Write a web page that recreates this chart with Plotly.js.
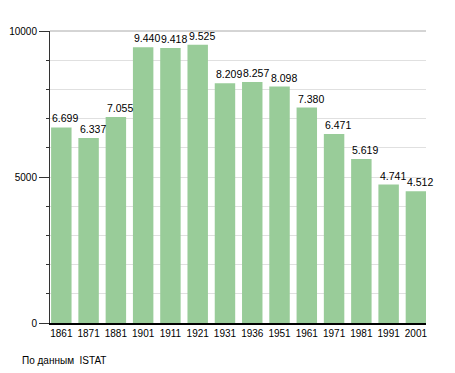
<!DOCTYPE html>
<html>
<head>
<meta charset="utf-8">
<script src="https://cdn.plot.ly/plotly-3.0.1.min.js"></script>
<style>html,body{margin:0;padding:0;background:#fff;}#chart{width:455px;height:373px;}</style>
</head>
<body>
<div id="chart"></div>
<script>
var years = ['1861','1871','1881','1901','1911','1921','1931','1936','1951','1961','1971','1981','1991','2001'];
var population = [6699, 6337, 7055, 9440, 9418, 9525, 8209, 8257, 8098, 7380, 6471, 5619, 4741, 4512];
var sourceNote = 'По данным  ISTAT';

function fmt(v){ return String(v).replace(/\B(?=(\d{3})+(?!\d))/g, '.'); }

var font = 'Liberation Sans, Arial, sans-serif';

var annotations = years.map(function(y, i){
  return {x: i, y: population[i], text: fmt(population[i]), showarrow: false,
    xanchor: 'left', yanchor: 'bottom', xshift: -11, yshift: 1,
    font: {family: font, size: 10.5, color: '#000'}};
});
annotations.push({xref: 'paper', yref: 'paper', x: -0.08, y: -0.13, xanchor: 'left', yanchor: 'middle',
  text: sourceNote, showarrow: false, font: {family: font, size: 10, color: '#000'}});

var trace = {type: 'bar', x: years, y: population, marker: {color: '#99cc99'}, hoverinfo: 'none'};

var layout = {
  width: 455, height: 373,
  margin: {l: 50, r: 29, t: 31, b: 50, pad: 0},
  paper_bgcolor: '#fff', plot_bgcolor: '#fff',
  bargap: 0.25,
  showlegend: false,
  font: {family: font, size: 10, color: '#000'},
  xaxis: {type: 'category', range: [-0.415, 13.37], showgrid: false, showline: true, linecolor: '#000', linewidth: 2,
    ticks: '', tickfont: {size: 10}, fixedrange: true, zeroline: false},
  yaxis: {range: [0, 10000], dtick: 5000, tick0: 0, tickformat: 'd', showline: true, linecolor: '#333', linewidth: 1,
    ticks: 'outside', ticklen: 10, tickcolor: '#333', showgrid: true, gridcolor: '#e0e0e0', zeroline: false,
    tickfont: {size: 10},
    minor: {dtick: 1000, ticks: 'outside', ticklen: 3, tickcolor: '#333', showgrid: true, gridcolor: '#e0e0e0'}},
  shapes: [{type: 'line', xref: 'paper', yref: 'paper', x0: 0, x1: 1, y0: 1, y1: 1, line: {color: '#aaaaaa', width: 1}}],
  annotations: annotations
};

Plotly.newPlot('chart', [trace], layout, {displayModeBar: false, staticPlot: true});
</script>
</body>
</html>
